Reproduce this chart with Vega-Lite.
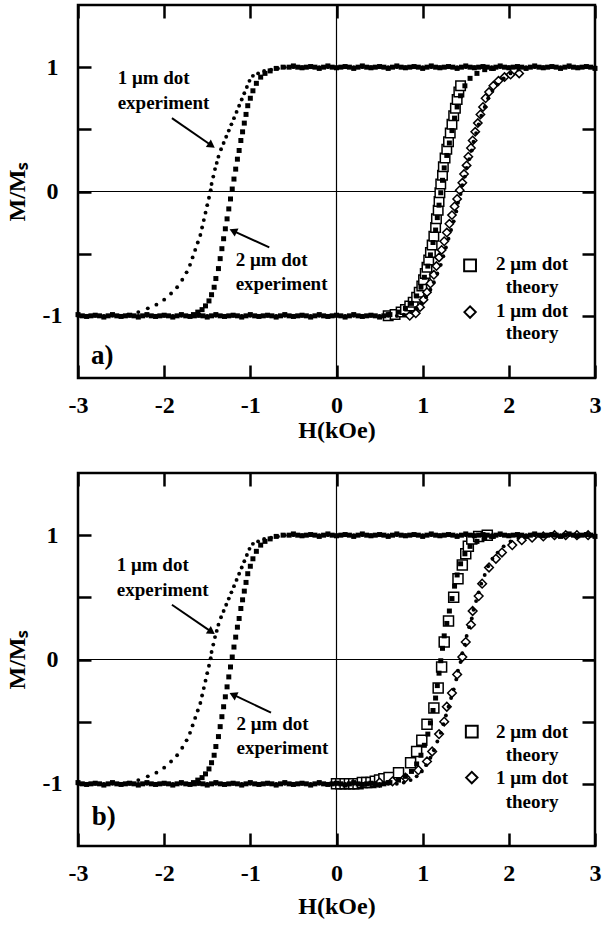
{
"$schema": "https://vega.github.io/schema/vega-lite/v6.json",
"background": "white",
"padding": {"left": 3, "top": 2, "right": 5, "bottom": 5},
"spacing": 26,
"config": {
 "view": {"stroke": "black", "strokeWidth": 2.5},
 "axis": {"domain": false, "grid": false, "labelFont": "Liberation Serif", "labelFontWeight": "bold", "labelFontSize": 24, "labelColor": "black", "titleFont": "Liberation Serif", "titleFontWeight": "bold", "titleFontSize": 24, "titleColor": "black", "tickColor": "black", "tickWidth": 2.5, "tickSize": -13, "labelFlush": false},
 "text": {"font": "Liberation Serif", "fontWeight": "bold", "fontSize": 19, "color": "black"}
},
"datasets": {
 "exp": [
{"s":"e1","x":-0.60,"y":1.00},{"s":"e1","x":-0.68,"y":0.99},{"s":"e1","x":-0.76,"y":0.98},{"s":"e1","x":-0.84,"y":0.97},{"s":"e1","x":-0.91,"y":0.95},{"s":"e1","x":-0.97,"y":0.93},{"s":"e1","x":-1.01,"y":0.89},{"s":"e1","x":-1.04,"y":0.84},{"s":"e1","x":-1.07,"y":0.79},{"s":"e1","x":-1.10,"y":0.74},{"s":"e1","x":-1.13,"y":0.69},{"s":"e1","x":-1.16,"y":0.64},{"s":"e1","x":-1.19,"y":0.59},{"s":"e1","x":-1.22,"y":0.54},{"s":"e1","x":-1.25,"y":0.49},{"s":"e1","x":-1.28,"y":0.44},{"s":"e1","x":-1.31,"y":0.39},{"s":"e1","x":-1.34,"y":0.34},{"s":"e1","x":-1.37,"y":0.28},{"s":"e1","x":-1.39,"y":0.23},{"s":"e1","x":-1.41,"y":0.18},{"s":"e1","x":-1.43,"y":0.12},{"s":"e1","x":-1.45,"y":0.06},{"s":"e1","x":-1.46,"y":0.01},{"s":"e1","x":-1.48,"y":-0.05},{"s":"e1","x":-1.50,"y":-0.11},{"s":"e1","x":-1.52,"y":-0.17},{"s":"e1","x":-1.54,"y":-0.23},{"s":"e1","x":-1.56,"y":-0.29},{"s":"e1","x":-1.58,"y":-0.35},{"s":"e1","x":-1.61,"y":-0.41},{"s":"e1","x":-1.64,"y":-0.47},{"s":"e1","x":-1.67,"y":-0.53},{"s":"e1","x":-1.70,"y":-0.59},{"s":"e1","x":-1.74,"y":-0.65},{"s":"e1","x":-1.79,"y":-0.71},{"s":"e1","x":-1.85,"y":-0.77},{"s":"e1","x":-1.92,"y":-0.82},{"s":"e1","x":-2.00,"y":-0.87},{"s":"e1","x":-2.09,"y":-0.91},{"s":"e1","x":-2.19,"y":-0.94},{"s":"e1","x":-2.30,"y":-0.97},{"s":"e1","x":-2.42,"y":-0.99},
{"s":"e1","x":-3.0,"y":-1},{"s":"e1","x":-2.9,"y":-1},{"s":"e1","x":-2.8,"y":-1},{"s":"e1","x":-2.7,"y":-1},{"s":"e1","x":-2.6,"y":-1},{"s":"e1","x":-2.5,"y":-1},{"s":"e1","x":-2.4,"y":-1},{"s":"e1","x":-2.3,"y":-1},{"s":"e1","x":-2.2,"y":-1},{"s":"e1","x":-2.1,"y":-1},{"s":"e1","x":-2.0,"y":-1},{"s":"e1","x":-1.9,"y":-1},{"s":"e1","x":-1.8,"y":-1},{"s":"e1","x":-1.7,"y":-1},{"s":"e1","x":-1.6,"y":-1},{"s":"e1","x":-1.5,"y":-1},{"s":"e1","x":-1.4,"y":-1},{"s":"e1","x":-1.3,"y":-1},{"s":"e1","x":-1.2,"y":-1},{"s":"e1","x":-1.1,"y":-1},{"s":"e1","x":-1.0,"y":-1},{"s":"e1","x":-0.9,"y":-1},{"s":"e1","x":-0.8,"y":-1},{"s":"e1","x":-0.7,"y":-1},{"s":"e1","x":-0.6,"y":-1},{"s":"e1","x":-0.5,"y":-1},{"s":"e1","x":-0.4,"y":-1},{"s":"e1","x":-0.3,"y":-1},{"s":"e1","x":-0.2,"y":-1},{"s":"e1","x":-0.1,"y":-1},{"s":"e1","x":0.0,"y":-1},{"s":"e1","x":0.1,"y":-1},{"s":"e1","x":0.2,"y":-1},{"s":"e1","x":0.3,"y":-1},{"s":"e1","x":0.4,"y":-1},{"s":"e1","x":0.5,"y":-1},{"s":"e1","x":0.6,"y":-1},{"s":"e1","x":0.7,"y":-1},
{"s":"e1","x":0.78,"y":-0.99},{"s":"e1","x":0.86,"y":-0.97},{"s":"e1","x":0.93,"y":-0.94},{"s":"e1","x":0.99,"y":-0.90},{"s":"e1","x":1.04,"y":-0.85},{"s":"e1","x":1.09,"y":-0.79},{"s":"e1","x":1.13,"y":-0.73},{"s":"e1","x":1.17,"y":-0.66},{"s":"e1","x":1.21,"y":-0.59},{"s":"e1","x":1.24,"y":-0.52},{"s":"e1","x":1.27,"y":-0.45},{"s":"e1","x":1.30,"y":-0.38},{"s":"e1","x":1.33,"y":-0.31},{"s":"e1","x":1.36,"y":-0.24},{"s":"e1","x":1.39,"y":-0.16},{"s":"e1","x":1.41,"y":-0.09},{"s":"e1","x":1.44,"y":-0.02},{"s":"e1","x":1.46,"y":0.05},{"s":"e1","x":1.49,"y":0.12},{"s":"e1","x":1.51,"y":0.19},{"s":"e1","x":1.54,"y":0.26},{"s":"e1","x":1.57,"y":0.33},{"s":"e1","x":1.59,"y":0.40},{"s":"e1","x":1.62,"y":0.47},{"s":"e1","x":1.65,"y":0.54},{"s":"e1","x":1.68,"y":0.61},{"s":"e1","x":1.72,"y":0.68},{"s":"e1","x":1.76,"y":0.75},{"s":"e1","x":1.81,"y":0.81},{"s":"e1","x":1.87,"y":0.86},{"s":"e1","x":1.94,"y":0.91},{"s":"e1","x":2.02,"y":0.95},{"s":"e1","x":2.11,"y":0.98},{"s":"e1","x":2.20,"y":0.99},
{"s":"e1","x":-0.5,"y":1},{"s":"e1","x":-0.4,"y":1},{"s":"e1","x":-0.3,"y":1},{"s":"e1","x":-0.2,"y":1},{"s":"e1","x":-0.1,"y":1},{"s":"e1","x":0.0,"y":1},{"s":"e1","x":0.1,"y":1},{"s":"e1","x":0.2,"y":1},{"s":"e1","x":0.3,"y":1},{"s":"e1","x":0.4,"y":1},{"s":"e1","x":0.5,"y":1},{"s":"e1","x":0.6,"y":1},{"s":"e1","x":0.7,"y":1},{"s":"e1","x":0.8,"y":1},{"s":"e1","x":0.9,"y":1},{"s":"e1","x":1.0,"y":1},{"s":"e1","x":1.1,"y":1},{"s":"e1","x":1.2,"y":1},{"s":"e1","x":1.3,"y":1},{"s":"e1","x":1.4,"y":1},{"s":"e1","x":1.5,"y":1},{"s":"e1","x":1.6,"y":1},{"s":"e1","x":1.7,"y":1},{"s":"e1","x":1.8,"y":1},{"s":"e1","x":1.9,"y":1},{"s":"e1","x":2.0,"y":1},{"s":"e1","x":2.1,"y":1},{"s":"e1","x":2.2,"y":1},{"s":"e1","x":2.3,"y":1},{"s":"e1","x":2.4,"y":1},{"s":"e1","x":2.5,"y":1},{"s":"e1","x":2.6,"y":1},{"s":"e1","x":2.7,"y":1},{"s":"e1","x":2.8,"y":1},{"s":"e1","x":2.9,"y":1},{"s":"e1","x":3.0,"y":1},
{"s":"e2","x":-0.62,"y":1.00},{"s":"e2","x":-0.70,"y":0.99},{"s":"e2","x":-0.77,"y":0.97},{"s":"e2","x":-0.83,"y":0.95},{"s":"e2","x":-0.88,"y":0.92},{"s":"e2","x":-0.93,"y":0.87},{"s":"e2","x":-0.97,"y":0.81},{"s":"e2","x":-1.00,"y":0.75},{"s":"e2","x":-1.03,"y":0.69},{"s":"e2","x":-1.05,"y":0.62},{"s":"e2","x":-1.07,"y":0.55},{"s":"e2","x":-1.09,"y":0.48},{"s":"e2","x":-1.11,"y":0.41},{"s":"e2","x":-1.13,"y":0.33},{"s":"e2","x":-1.15,"y":0.26},{"s":"e2","x":-1.17,"y":0.18},{"s":"e2","x":-1.19,"y":0.10},{"s":"e2","x":-1.21,"y":0.02},{"s":"e2","x":-1.23,"y":-0.06},{"s":"e2","x":-1.25,"y":-0.14},{"s":"e2","x":-1.27,"y":-0.22},{"s":"e2","x":-1.29,"y":-0.30},{"s":"e2","x":-1.31,"y":-0.38},{"s":"e2","x":-1.33,"y":-0.46},{"s":"e2","x":-1.35,"y":-0.54},{"s":"e2","x":-1.37,"y":-0.62},{"s":"e2","x":-1.40,"y":-0.70},{"s":"e2","x":-1.42,"y":-0.77},{"s":"e2","x":-1.45,"y":-0.83},{"s":"e2","x":-1.48,"y":-0.88},{"s":"e2","x":-1.52,"y":-0.92},{"s":"e2","x":-1.56,"y":-0.95},{"s":"e2","x":-1.61,"y":-0.97},{"s":"e2","x":-1.66,"y":-0.99},
{"s":"e2","x":-2.95,"y":-1},{"s":"e2","x":-2.85,"y":-1},{"s":"e2","x":-2.75,"y":-1},{"s":"e2","x":-2.65,"y":-1},{"s":"e2","x":-2.55,"y":-1},{"s":"e2","x":-2.45,"y":-1},{"s":"e2","x":-2.35,"y":-1},{"s":"e2","x":-2.25,"y":-1},{"s":"e2","x":-2.15,"y":-1},{"s":"e2","x":-2.05,"y":-1},{"s":"e2","x":-1.95,"y":-1},{"s":"e2","x":-1.85,"y":-1},{"s":"e2","x":-1.75,"y":-1},{"s":"e2","x":-1.65,"y":-1},{"s":"e2","x":-1.55,"y":-1},{"s":"e2","x":-1.45,"y":-1},{"s":"e2","x":-1.35,"y":-1},{"s":"e2","x":-1.25,"y":-1},{"s":"e2","x":-1.15,"y":-1},{"s":"e2","x":-1.05,"y":-1},{"s":"e2","x":-0.95,"y":-1},{"s":"e2","x":-0.85,"y":-1},{"s":"e2","x":-0.75,"y":-1},{"s":"e2","x":-0.65,"y":-1},{"s":"e2","x":-0.55,"y":-1},{"s":"e2","x":-0.45,"y":-1},{"s":"e2","x":-0.35,"y":-1},{"s":"e2","x":-0.25,"y":-1},{"s":"e2","x":-0.15,"y":-1},{"s":"e2","x":-0.05,"y":-1},{"s":"e2","x":0.05,"y":-1},{"s":"e2","x":0.15,"y":-1},{"s":"e2","x":0.25,"y":-1},{"s":"e2","x":0.35,"y":-1},{"s":"e2","x":0.45,"y":-1},{"s":"e2","x":0.55,"y":-1},
{"s":"e2","x":-3.0,"y":-0.99},{"s":"e2","x":-2.9,"y":-1.005},{"s":"e2","x":-2.8,"y":-0.995},{"s":"e2","x":-2.7,"y":-1.01},{"s":"e2","x":-2.6,"y":-0.99},{"s":"e2","x":-2.5,"y":-1.005},{"s":"e2","x":-2.4,"y":-0.995},{"s":"e2","x":-2.3,"y":-1.01},{"s":"e2","x":-2.2,"y":-0.99},{"s":"e2","x":-2.1,"y":-1.005},{"s":"e2","x":-2.0,"y":-0.995},{"s":"e2","x":-1.9,"y":-1.01},{"s":"e2","x":-1.8,"y":-0.99},{"s":"e2","x":-1.7,"y":-1.005},{"s":"e2","x":-1.6,"y":-0.995},{"s":"e2","x":-1.5,"y":-1.01},{"s":"e2","x":-1.4,"y":-0.99},{"s":"e2","x":-1.3,"y":-1.005},{"s":"e2","x":-1.2,"y":-0.995},{"s":"e2","x":-1.1,"y":-1.01},{"s":"e2","x":-1.0,"y":-0.99},{"s":"e2","x":-0.9,"y":-1.005},{"s":"e2","x":-0.8,"y":-0.995},{"s":"e2","x":-0.7,"y":-1.01},{"s":"e2","x":-0.6,"y":-0.99},{"s":"e2","x":-0.5,"y":-1.005},{"s":"e2","x":-0.4,"y":-0.995},{"s":"e2","x":-0.3,"y":-1.01},{"s":"e2","x":-0.2,"y":-0.99},{"s":"e2","x":-0.1,"y":-1.005},{"s":"e2","x":0.0,"y":-0.995},{"s":"e2","x":0.1,"y":-1.01},{"s":"e2","x":0.2,"y":-0.99},{"s":"e2","x":0.3,"y":-1.005},{"s":"e2","x":0.4,"y":-0.995},{"s":"e2","x":0.5,"y":-1.01},{"s":"e2","x":0.6,"y":-0.99},
{"s":"e2","x":0.62,"y":-0.99},{"s":"e2","x":0.72,"y":-0.97},{"s":"e2","x":0.80,"y":-0.94},{"s":"e2","x":0.87,"y":-0.90},{"s":"e2","x":0.93,"y":-0.84},{"s":"e2","x":0.98,"y":-0.77},{"s":"e2","x":1.02,"y":-0.69},{"s":"e2","x":1.06,"y":-0.60},{"s":"e2","x":1.09,"y":-0.51},{"s":"e2","x":1.12,"y":-0.41},{"s":"e2","x":1.15,"y":-0.31},{"s":"e2","x":1.17,"y":-0.21},{"s":"e2","x":1.19,"y":-0.11},{"s":"e2","x":1.21,"y":-0.01},{"s":"e2","x":1.23,"y":0.09},{"s":"e2","x":1.25,"y":0.19},{"s":"e2","x":1.28,"y":0.29},{"s":"e2","x":1.31,"y":0.39},{"s":"e2","x":1.34,"y":0.49},{"s":"e2","x":1.37,"y":0.59},{"s":"e2","x":1.40,"y":0.68},{"s":"e2","x":1.44,"y":0.77},{"s":"e2","x":1.49,"y":0.85},{"s":"e2","x":1.55,"y":0.91},{"s":"e2","x":1.63,"y":0.95},{"s":"e2","x":1.72,"y":0.98},{"s":"e2","x":1.82,"y":0.99},
{"s":"e2","x":-0.55,"y":1},{"s":"e2","x":-0.45,"y":1},{"s":"e2","x":-0.35,"y":1},{"s":"e2","x":-0.25,"y":1},{"s":"e2","x":-0.15,"y":1},{"s":"e2","x":-0.05,"y":1},{"s":"e2","x":0.05,"y":1},{"s":"e2","x":0.15,"y":1},{"s":"e2","x":0.25,"y":1},{"s":"e2","x":0.35,"y":1},{"s":"e2","x":0.45,"y":1},{"s":"e2","x":0.55,"y":1},{"s":"e2","x":0.65,"y":1},{"s":"e2","x":0.75,"y":1},{"s":"e2","x":0.85,"y":1},{"s":"e2","x":0.95,"y":1},{"s":"e2","x":1.05,"y":1},{"s":"e2","x":1.15,"y":1},{"s":"e2","x":1.25,"y":1},{"s":"e2","x":1.35,"y":1},{"s":"e2","x":1.45,"y":1},{"s":"e2","x":1.55,"y":1},{"s":"e2","x":1.65,"y":1},{"s":"e2","x":1.75,"y":1},{"s":"e2","x":1.85,"y":1},{"s":"e2","x":1.95,"y":1},{"s":"e2","x":2.05,"y":1},{"s":"e2","x":2.15,"y":1},{"s":"e2","x":2.25,"y":1},{"s":"e2","x":2.35,"y":1},{"s":"e2","x":2.45,"y":1},{"s":"e2","x":2.55,"y":1},{"s":"e2","x":2.65,"y":1},{"s":"e2","x":2.75,"y":1},{"s":"e2","x":2.85,"y":1},{"s":"e2","x":2.95,"y":1},
{"s":"e2","x":-0.5,"y":1.01},{"s":"e2","x":-0.4,"y":0.995},{"s":"e2","x":-0.3,"y":1.005},{"s":"e2","x":-0.2,"y":0.99},{"s":"e2","x":-0.1,"y":1.01},{"s":"e2","x":0.0,"y":0.995},{"s":"e2","x":0.1,"y":1.005},{"s":"e2","x":0.2,"y":0.99},{"s":"e2","x":0.3,"y":1.01},{"s":"e2","x":0.4,"y":0.995},{"s":"e2","x":0.5,"y":1.005},{"s":"e2","x":0.6,"y":0.99},{"s":"e2","x":0.7,"y":1.01},{"s":"e2","x":0.8,"y":0.995},{"s":"e2","x":0.9,"y":1.005},{"s":"e2","x":1.0,"y":0.99},{"s":"e2","x":1.1,"y":1.01},{"s":"e2","x":1.2,"y":0.995},{"s":"e2","x":1.3,"y":1.005},{"s":"e2","x":1.4,"y":0.99},{"s":"e2","x":1.5,"y":1.01},{"s":"e2","x":1.6,"y":0.995},{"s":"e2","x":1.7,"y":1.005},{"s":"e2","x":1.8,"y":0.99},{"s":"e2","x":1.9,"y":1.01},{"s":"e2","x":2.0,"y":0.995},{"s":"e2","x":2.1,"y":1.005},{"s":"e2","x":2.2,"y":0.99},{"s":"e2","x":2.3,"y":1.01},{"s":"e2","x":2.4,"y":0.995},{"s":"e2","x":2.5,"y":1.005},{"s":"e2","x":2.6,"y":0.99},{"s":"e2","x":2.7,"y":1.01},{"s":"e2","x":2.8,"y":0.995},{"s":"e2","x":2.9,"y":1.005},{"s":"e2","x":3.0,"y":0.99}
 ],
 "theory": [
{"p":"a","s":"t2","x":0.60,"y":-1.00},{"p":"a","s":"t2","x":0.68,"y":-0.99},{"p":"a","s":"t2","x":0.75,"y":-0.97},{"p":"a","s":"t2","x":0.80,"y":-0.95},{"p":"a","s":"t2","x":0.85,"y":-0.92},{"p":"a","s":"t2","x":0.89,"y":-0.89},{"p":"a","s":"t2","x":0.93,"y":-0.85},{"p":"a","s":"t2","x":0.96,"y":-0.81},{"p":"a","s":"t2","x":0.99,"y":-0.76},{"p":"a","s":"t2","x":1.01,"y":-0.71},{"p":"a","s":"t2","x":1.03,"y":-0.66},{"p":"a","s":"t2","x":1.05,"y":-0.61},{"p":"a","s":"t2","x":1.07,"y":-0.55},{"p":"a","s":"t2","x":1.09,"y":-0.49},{"p":"a","s":"t2","x":1.11,"y":-0.43},{"p":"a","s":"t2","x":1.13,"y":-0.36},{"p":"a","s":"t2","x":1.15,"y":-0.29},{"p":"a","s":"t2","x":1.16,"y":-0.22},{"p":"a","s":"t2","x":1.18,"y":-0.15},{"p":"a","s":"t2","x":1.19,"y":-0.08},{"p":"a","s":"t2","x":1.20,"y":-0.01},{"p":"a","s":"t2","x":1.21,"y":0.06},{"p":"a","s":"t2","x":1.23,"y":0.13},{"p":"a","s":"t2","x":1.24,"y":0.20},{"p":"a","s":"t2","x":1.26,"y":0.27},{"p":"a","s":"t2","x":1.28,"y":0.34},{"p":"a","s":"t2","x":1.30,"y":0.40},{"p":"a","s":"t2","x":1.32,"y":0.47},{"p":"a","s":"t2","x":1.34,"y":0.54},{"p":"a","s":"t2","x":1.36,"y":0.61},{"p":"a","s":"t2","x":1.38,"y":0.67},{"p":"a","s":"t2","x":1.40,"y":0.74},{"p":"a","s":"t2","x":1.42,"y":0.80},{"p":"a","s":"t2","x":1.44,"y":0.85},
{"p":"a","s":"t1","x":0.85,"y":-1.00},{"p":"a","s":"t1","x":0.92,"y":-0.98},{"p":"a","s":"t1","x":0.97,"y":-0.93},{"p":"a","s":"t1","x":1.01,"y":-0.87},{"p":"a","s":"t1","x":1.05,"y":-0.81},{"p":"a","s":"t1","x":1.09,"y":-0.74},{"p":"a","s":"t1","x":1.13,"y":-0.67},{"p":"a","s":"t1","x":1.16,"y":-0.60},{"p":"a","s":"t1","x":1.19,"y":-0.53},{"p":"a","s":"t1","x":1.22,"y":-0.47},{"p":"a","s":"t1","x":1.25,"y":-0.40},{"p":"a","s":"t1","x":1.28,"y":-0.33},{"p":"a","s":"t1","x":1.31,"y":-0.26},{"p":"a","s":"t1","x":1.34,"y":-0.19},{"p":"a","s":"t1","x":1.37,"y":-0.12},{"p":"a","s":"t1","x":1.40,"y":-0.06},{"p":"a","s":"t1","x":1.43,"y":0.01},{"p":"a","s":"t1","x":1.46,"y":0.07},{"p":"a","s":"t1","x":1.48,"y":0.14},{"p":"a","s":"t1","x":1.51,"y":0.21},{"p":"a","s":"t1","x":1.53,"y":0.28},{"p":"a","s":"t1","x":1.56,"y":0.35},{"p":"a","s":"t1","x":1.58,"y":0.41},{"p":"a","s":"t1","x":1.61,"y":0.48},{"p":"a","s":"t1","x":1.64,"y":0.55},{"p":"a","s":"t1","x":1.67,"y":0.62},{"p":"a","s":"t1","x":1.70,"y":0.68},{"p":"a","s":"t1","x":1.73,"y":0.75},{"p":"a","s":"t1","x":1.77,"y":0.80},{"p":"a","s":"t1","x":1.82,"y":0.85},{"p":"a","s":"t1","x":1.88,"y":0.89},{"p":"a","s":"t1","x":1.95,"y":0.92},{"p":"a","s":"t1","x":2.02,"y":0.94},{"p":"a","s":"t1","x":2.12,"y":0.95},
{"p":"b","s":"t2","x":0.00,"y":-1.00},{"p":"b","s":"t2","x":0.05,"y":-1.00},{"p":"b","s":"t2","x":0.10,"y":-1.00},{"p":"b","s":"t2","x":0.15,"y":-1.00},{"p":"b","s":"t2","x":0.20,"y":-1.00},{"p":"b","s":"t2","x":0.25,"y":-1.00},{"p":"b","s":"t2","x":0.30,"y":-0.99},{"p":"b","s":"t2","x":0.35,"y":-0.99},{"p":"b","s":"t2","x":0.40,"y":-0.99},{"p":"b","s":"t2","x":0.45,"y":-0.98},{"p":"b","s":"t2","x":0.50,"y":-0.97},{"p":"b","s":"t2","x":0.55,"y":-0.96},{"p":"b","s":"t2","x":0.61,"y":-0.95},{"p":"b","s":"t2","x":0.72,"y":-0.91},{"p":"b","s":"t2","x":0.86,"y":-0.83},{"p":"b","s":"t2","x":0.93,"y":-0.74},{"p":"b","s":"t2","x":0.99,"y":-0.65},{"p":"b","s":"t2","x":1.05,"y":-0.52},{"p":"b","s":"t2","x":1.13,"y":-0.39},{"p":"b","s":"t2","x":1.18,"y":-0.23},{"p":"b","s":"t2","x":1.22,"y":-0.06},{"p":"b","s":"t2","x":1.25,"y":0.14},{"p":"b","s":"t2","x":1.30,"y":0.31},{"p":"b","s":"t2","x":1.36,"y":0.50},{"p":"b","s":"t2","x":1.41,"y":0.65},{"p":"b","s":"t2","x":1.46,"y":0.76},{"p":"b","s":"t2","x":1.50,"y":0.85},{"p":"b","s":"t2","x":1.53,"y":0.91},{"p":"b","s":"t2","x":1.57,"y":0.97},{"p":"b","s":"t2","x":1.65,"y":0.99},{"p":"b","s":"t2","x":1.75,"y":1.0},
{"p":"b","s":"t1","x":0.50,"y":-0.99},{"p":"b","s":"t1","x":0.65,"y":-0.98},{"p":"b","s":"t1","x":0.80,"y":-0.95},{"p":"b","s":"t1","x":0.95,"y":-0.89},{"p":"b","s":"t1","x":1.05,"y":-0.82},{"p":"b","s":"t1","x":1.11,"y":-0.74},{"p":"b","s":"t1","x":1.19,"y":-0.60},{"p":"b","s":"t1","x":1.25,"y":-0.50},{"p":"b","s":"t1","x":1.28,"y":-0.38},{"p":"b","s":"t1","x":1.34,"y":-0.27},{"p":"b","s":"t1","x":1.40,"y":-0.12},{"p":"b","s":"t1","x":1.46,"y":0.02},{"p":"b","s":"t1","x":1.50,"y":0.14},{"p":"b","s":"t1","x":1.56,"y":0.28},{"p":"b","s":"t1","x":1.58,"y":0.39},{"p":"b","s":"t1","x":1.65,"y":0.51},{"p":"b","s":"t1","x":1.69,"y":0.61},{"p":"b","s":"t1","x":1.77,"y":0.74},{"p":"b","s":"t1","x":1.85,"y":0.81},{"p":"b","s":"t1","x":1.92,"y":0.86},{"p":"b","s":"t1","x":2.04,"y":0.92},{"p":"b","s":"t1","x":2.15,"y":0.96},{"p":"b","s":"t1","x":2.27,"y":0.98},{"p":"b","s":"t1","x":2.40,"y":0.99},{"p":"b","s":"t1","x":2.53,"y":1.0},{"p":"b","s":"t1","x":2.66,"y":1.0},{"p":"b","s":"t1","x":2.79,"y":1.0},{"p":"b","s":"t1","x":2.92,"y":1.0}
 ],
 "ann": [
{"p":"a","t":"1 μm dot","x":-2.54,"y":0.91},{"p":"a","t":"experiment","x":-2.54,"y":0.71},{"p":"a","t":"2 μm dot","x":-1.17,"y":-0.55},{"p":"a","t":"experiment","x":-1.17,"y":-0.74},
{"p":"b","t":"1 μm dot","x":-2.55,"y":0.76},{"p":"b","t":"experiment","x":-2.55,"y":0.56},{"p":"b","t":"2 μm dot","x":-1.16,"y":-0.52},{"p":"b","t":"experiment","x":-1.16,"y":-0.71}
 ],
 "leg": [
{"p":"a","t":"2 μm dot","x":2.27,"y":-0.58},{"p":"a","t":"theory","x":2.27,"y":-0.77},{"p":"a","t":"1 μm dot","x":2.27,"y":-0.96},{"p":"a","t":"theory","x":2.27,"y":-1.14},
{"p":"b","t":"2 μm dot","x":2.27,"y":-0.58},{"p":"b","t":"theory","x":2.27,"y":-0.77},{"p":"b","t":"1 μm dot","x":2.27,"y":-0.95},{"p":"b","t":"theory","x":2.27,"y":-1.15}
 ],
 "legsym": [
{"p":"a","s":"t2","x":1.55,"y":-0.594},{"p":"a","s":"t1","x":1.55,"y":-0.97},
{"p":"b","s":"t2","x":1.57,"y":-0.58},{"p":"b","s":"t1","x":1.57,"y":-0.95}
 ],
 "arrows": [
{"p":"a","d":"dr","x":-1.91,"y":0.59,"x2":-1.45,"y2":0.37},{"p":"a","d":"ul","x":-0.78,"y":-0.45,"x2":-1.20,"y2":-0.317},
{"p":"b","d":"dr","x":-1.91,"y":0.44,"x2":-1.45,"y2":0.222},{"p":"b","d":"ul","x":-0.76,"y":-0.427,"x2":-1.20,"y2":-0.283}
 ],
 "plabel": [
{"p":"a","t":"a)","x":-2.85,"y":-1.32},{"p":"b","t":"b)","x":-2.84,"y":-1.27}
 ]
},
"vconcat": [
 {
  "width": 517, "height": 373,
  "layer": [
   {"data": {"values": [{"x": 0}]}, "mark": {"type": "rule", "color": "black", "strokeWidth": 1.2}, "encoding": {"x": {"field": "x", "type": "quantitative", "scale": {"domain": [-3, 3], "nice": false}, "axis": null}}},
   {"data": {"values": [{"y": 0}]}, "mark": {"type": "rule", "color": "black", "strokeWidth": 1.2}, "encoding": {"y": {"field": "y", "type": "quantitative", "scale": {"domain": [-1.5, 1.5], "nice": false}, "axis": null}}},
   {"data": {"name": "theory"}, "transform": [{"filter": "datum.p == 'a' && datum.s == 't2'"}], "mark": {"type": "point", "shape": "square", "filled": true, "fill": "white", "stroke": "black", "strokeWidth": 1.5, "size": 90, "opacity": 1}, "encoding": {"x": {"field": "x", "type": "quantitative", "axis": null}, "y": {"field": "y", "type": "quantitative", "axis": null}}},
   {"data": {"name": "theory"}, "transform": [{"filter": "datum.p == 'a' && datum.s == 't1'"}], "mark": {"type": "point", "shape": "diamond", "filled": true, "fill": "white", "stroke": "black", "strokeWidth": 1.5, "size": 70, "opacity": 1}, "encoding": {"x": {"field": "x", "type": "quantitative", "axis": null}, "y": {"field": "y", "type": "quantitative", "axis": null}}},
   {"data": {"name": "exp"}, "transform": [{"filter": "datum.s == 'e1'"}], "mark": {"type": "point", "shape": "circle", "filled": true, "color": "black", "size": 15, "opacity": 1}, "encoding": {
     "x": {"field": "x", "type": "quantitative", "scale": {"domain": [-3, 3], "nice": false}, "axis": {"orient": "bottom", "values": [-3, -2, -1, 0, 1, 2, 3], "labelExpr": "'' + datum.value", "title": "H(kOe)", "labelPadding": 28, "titlePadding": 1}},
     "y": {"field": "y", "type": "quantitative", "scale": {"domain": [-1.5, 1.5], "nice": false}, "axis": {"orient": "left", "values": [-1, -0.5, 0, 0.5, 1], "labelExpr": "datum.value % 1 == 0 ? '' + datum.value : ''", "title": "M/Mₛ", "labelAlign": "center", "labelPadding": 39, "titlePadding": 13}}}},
   {"data": {"name": "exp"}, "transform": [{"filter": "datum.s == 'e2'"}], "mark": {"type": "square", "color": "black", "size": 25, "opacity": 1}, "encoding": {
     "x": {"field": "x", "type": "quantitative", "axis": {"orient": "top", "values": [-3, -2, -1, 0, 1, 2, 3], "labels": false, "title": null}},
     "y": {"field": "y", "type": "quantitative", "axis": {"orient": "right", "values": [-1, -0.5, 0, 0.5, 1], "labels": false, "title": null}}}},
   {"data": {"name": "legsym"}, "transform": [{"filter": "datum.p == 'a' && datum.s == 't2'"}], "mark": {"type": "point", "shape": "square", "filled": false, "stroke": "black", "strokeWidth": 2, "size": 140, "opacity": 1}, "encoding": {"x": {"field": "x", "type": "quantitative", "axis": null}, "y": {"field": "y", "type": "quantitative", "axis": null}}},
   {"data": {"name": "legsym"}, "transform": [{"filter": "datum.p == 'a' && datum.s == 't1'"}], "mark": {"type": "point", "shape": "diamond", "filled": false, "stroke": "black", "strokeWidth": 2, "size": 130, "opacity": 1}, "encoding": {"x": {"field": "x", "type": "quantitative", "axis": null}, "y": {"field": "y", "type": "quantitative", "axis": null}}},
   {"data": {"name": "ann"}, "transform": [{"filter": "datum.p == 'a'"}], "mark": {"type": "text", "align": "left", "baseline": "middle"}, "encoding": {"x": {"field": "x", "type": "quantitative", "axis": null}, "y": {"field": "y", "type": "quantitative", "axis": null}, "text": {"field": "t"}}},
   {"data": {"name": "leg"}, "transform": [{"filter": "datum.p == 'a'"}], "mark": {"type": "text", "align": "center", "baseline": "middle"}, "encoding": {"x": {"field": "x", "type": "quantitative", "axis": null}, "y": {"field": "y", "type": "quantitative", "axis": null}, "text": {"field": "t"}}},
   {"data": {"name": "arrows"}, "transform": [{"filter": "datum.p == 'a'"}], "mark": {"type": "rule", "color": "black", "strokeWidth": 2}, "encoding": {"x": {"field": "x", "type": "quantitative", "axis": null}, "y": {"field": "y", "type": "quantitative", "axis": null}, "x2": {"field": "x2"}, "y2": {"field": "y2"}}},
   {"data": {"name": "arrows"}, "transform": [{"filter": "datum.p == 'a' && datum.d == 'dr'"}], "mark": {"type": "point", "shape": "triangle-right", "filled": true, "color": "black", "size": 80, "angle": 34, "opacity": 1}, "encoding": {"x": {"field": "x2", "type": "quantitative", "axis": null}, "y": {"field": "y2", "type": "quantitative", "axis": null}}},
   {"data": {"name": "arrows"}, "transform": [{"filter": "datum.p == 'a' && datum.d == 'ul'"}], "mark": {"type": "point", "shape": "triangle-right", "filled": true, "color": "black", "size": 80, "angle": 205, "opacity": 1}, "encoding": {"x": {"field": "x2", "type": "quantitative", "axis": null}, "y": {"field": "y2", "type": "quantitative", "axis": null}}},
   {"data": {"name": "plabel"}, "transform": [{"filter": "datum.p == 'a'"}], "mark": {"type": "text", "align": "left", "baseline": "middle", "fontSize": 27}, "encoding": {"x": {"field": "x", "type": "quantitative", "axis": null}, "y": {"field": "y", "type": "quantitative", "axis": null}, "text": {"field": "t"}}}
  ]
 },
 {
  "width": 517, "height": 373,
  "layer": [
   {"data": {"values": [{"x": 0}]}, "mark": {"type": "rule", "color": "black", "strokeWidth": 1.2}, "encoding": {"x": {"field": "x", "type": "quantitative", "scale": {"domain": [-3, 3], "nice": false}, "axis": null}}},
   {"data": {"values": [{"y": 0}]}, "mark": {"type": "rule", "color": "black", "strokeWidth": 1.2}, "encoding": {"y": {"field": "y", "type": "quantitative", "scale": {"domain": [-1.5, 1.5], "nice": false}, "axis": null}}},
   {"data": {"name": "theory"}, "transform": [{"filter": "datum.p == 'b' && datum.s == 't2'"}], "mark": {"type": "point", "shape": "square", "filled": true, "fill": "white", "stroke": "black", "strokeWidth": 1.5, "size": 100, "opacity": 1}, "encoding": {"x": {"field": "x", "type": "quantitative", "axis": null}, "y": {"field": "y", "type": "quantitative", "axis": null}}},
   {"data": {"name": "theory"}, "transform": [{"filter": "datum.p == 'b' && datum.s == 't1'"}], "mark": {"type": "point", "shape": "diamond", "filled": true, "fill": "white", "stroke": "black", "strokeWidth": 1.5, "size": 75, "opacity": 1}, "encoding": {"x": {"field": "x", "type": "quantitative", "axis": null}, "y": {"field": "y", "type": "quantitative", "axis": null}}},
   {"data": {"name": "exp"}, "transform": [{"filter": "datum.s == 'e1'"}], "mark": {"type": "point", "shape": "circle", "filled": true, "color": "black", "size": 15, "opacity": 1}, "encoding": {
     "x": {"field": "x", "type": "quantitative", "scale": {"domain": [-3, 3], "nice": false}, "axis": {"orient": "bottom", "values": [-3, -2, -1, 0, 1, 2, 3], "labelExpr": "'' + datum.value", "title": "H(kOe)", "labelPadding": 28, "titlePadding": 9}},
     "y": {"field": "y", "type": "quantitative", "scale": {"domain": [-1.5, 1.5], "nice": false}, "axis": {"orient": "left", "values": [-1, -0.5, 0, 0.5, 1], "labelExpr": "datum.value % 1 == 0 ? '' + datum.value : ''", "title": "M/Mₛ", "labelAlign": "center", "labelPadding": 39, "titlePadding": 13}}}},
   {"data": {"name": "exp"}, "transform": [{"filter": "datum.s == 'e2'"}], "mark": {"type": "square", "color": "black", "size": 25, "opacity": 1}, "encoding": {
     "x": {"field": "x", "type": "quantitative", "axis": {"orient": "top", "values": [-3, -2, -1, 0, 1, 2, 3], "labels": false, "title": null}},
     "y": {"field": "y", "type": "quantitative", "axis": {"orient": "right", "values": [-1, -0.5, 0, 0.5, 1], "labels": false, "title": null}}}},
   {"data": {"name": "legsym"}, "transform": [{"filter": "datum.p == 'b' && datum.s == 't2'"}], "mark": {"type": "point", "shape": "square", "filled": false, "stroke": "black", "strokeWidth": 2, "size": 140, "opacity": 1}, "encoding": {"x": {"field": "x", "type": "quantitative", "axis": null}, "y": {"field": "y", "type": "quantitative", "axis": null}}},
   {"data": {"name": "legsym"}, "transform": [{"filter": "datum.p == 'b' && datum.s == 't1'"}], "mark": {"type": "point", "shape": "diamond", "filled": false, "stroke": "black", "strokeWidth": 2, "size": 130, "opacity": 1}, "encoding": {"x": {"field": "x", "type": "quantitative", "axis": null}, "y": {"field": "y", "type": "quantitative", "axis": null}}},
   {"data": {"name": "ann"}, "transform": [{"filter": "datum.p == 'b'"}], "mark": {"type": "text", "align": "left", "baseline": "middle"}, "encoding": {"x": {"field": "x", "type": "quantitative", "axis": null}, "y": {"field": "y", "type": "quantitative", "axis": null}, "text": {"field": "t"}}},
   {"data": {"name": "leg"}, "transform": [{"filter": "datum.p == 'b'"}], "mark": {"type": "text", "align": "center", "baseline": "middle"}, "encoding": {"x": {"field": "x", "type": "quantitative", "axis": null}, "y": {"field": "y", "type": "quantitative", "axis": null}, "text": {"field": "t"}}},
   {"data": {"name": "arrows"}, "transform": [{"filter": "datum.p == 'b'"}], "mark": {"type": "rule", "color": "black", "strokeWidth": 2}, "encoding": {"x": {"field": "x", "type": "quantitative", "axis": null}, "y": {"field": "y", "type": "quantitative", "axis": null}, "x2": {"field": "x2"}, "y2": {"field": "y2"}}},
   {"data": {"name": "arrows"}, "transform": [{"filter": "datum.p == 'b' && datum.d == 'dr'"}], "mark": {"type": "point", "shape": "triangle-right", "filled": true, "color": "black", "size": 80, "angle": 34, "opacity": 1}, "encoding": {"x": {"field": "x2", "type": "quantitative", "axis": null}, "y": {"field": "y2", "type": "quantitative", "axis": null}}},
   {"data": {"name": "arrows"}, "transform": [{"filter": "datum.p == 'b' && datum.d == 'ul'"}], "mark": {"type": "point", "shape": "triangle-right", "filled": true, "color": "black", "size": 80, "angle": 205, "opacity": 1}, "encoding": {"x": {"field": "x2", "type": "quantitative", "axis": null}, "y": {"field": "y2", "type": "quantitative", "axis": null}}},
   {"data": {"name": "plabel"}, "transform": [{"filter": "datum.p == 'b'"}], "mark": {"type": "text", "align": "left", "baseline": "middle", "fontSize": 27}, "encoding": {"x": {"field": "x", "type": "quantitative", "axis": null}, "y": {"field": "y", "type": "quantitative", "axis": null}, "text": {"field": "t"}}}
  ]
 }
]
}
